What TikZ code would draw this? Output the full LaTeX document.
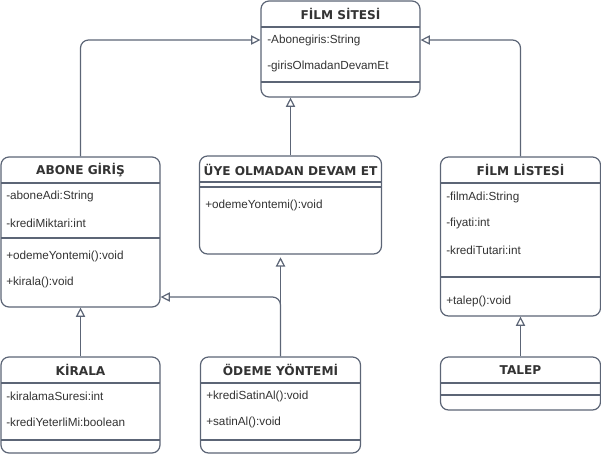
\documentclass[tikz,border=0pt]{standalone}
\usepackage{fontspec}
\setmainfont{Liberation Sans}
\newfontfamily\headfont{DejaVu Sans}
\usetikzlibrary{arrows.meta}
\definecolor{umlline}{RGB}{92,101,118}
\definecolor{umltext}{RGB}{51,51,51}
\begin{document}
\begin{tikzpicture}[x=0.75pt,y=-0.75pt]
    \tikzstyle{cls}=[draw=umlline,line width=0.9pt,rounded corners=6pt,fill=white,inner sep=0pt]
    \tikzstyle{head}=[font=\headfont\bfseries\fontsize{9.1}{11}\selectfont,text=umltext,inner sep=0pt]
    \tikzstyle{row}=[font=\fontsize{8.8}{10}\selectfont,text=umltext,anchor=west,inner sep=0pt]
    \tikzstyle{sep}=[draw=umlline,line width=0.9pt]
    \tikzstyle{gen}=[draw=umlline,line width=0.9pt,rounded corners=6pt,-{Triangle[open,length=7pt,width=7pt,fill=white]}]
    \useasboundingbox (0,0) rectangle (601,455);
    % classes
    \node[cls,minimum width=119.25pt,minimum height=72pt] (site) at (340.5,49) {};
    \node[cls,minimum width=119.25pt,minimum height=112.5pt] (abone) at (80.5,232) {};
    \node[cls,minimum width=136.5pt,minimum height=73.5pt] (uye) at (290.5,205) {};
    \node[cls,minimum width=120pt,minimum height=119.25pt] (liste) at (520.5,236.5) {};
    \node[cls,minimum width=119.25pt,minimum height=72pt] (kirala) at (80.5,405) {};
    \node[cls,minimum width=120pt,minimum height=72pt] (odeme) at (280.5,405) {};
    \node[cls,minimum width=120pt,minimum height=39.75pt] (talep) at (520.5,383.5) {};
    % FILM SITESI
    \node[head] (site_h) at (340.5,14) {FİLM SİTESİ};
    \draw[sep] (261,27) -- (420,27);
    \node[row] (site_a1) at (267,40) {-Abonegiris:String};
    \node[row] (site_a2) at (267,66) {-girisOlmadanDevamEt};
    \draw[sep] (261,82) -- (420,82);
    % ABONE GIRIS
    \node[head] (abone_h) at (80.5,170) {ABONE GİRİŞ};
    \draw[sep] (1,183) -- (160,183);
    \node[row] (abone_a1) at (6,196) {-aboneAdi:String};
    \node[row] (abone_a2) at (6,223) {-krediMiktari:int};
    \draw[sep] (1,238) -- (160,238);
    \node[row] (abone_m1) at (6,256) {+odemeYontemi():void};
    \node[row] (abone_m2) at (6,282) {+kirala():void};
    % UYE OLMADAN DEVAM ET
    \node[head] (uye_h) at (290.5,170) {ÜYE OLMADAN DEVAM ET};
    \draw[sep] (199,182) -- (382,182);
    \draw[sep] (199,187) -- (382,187);
    \node[row] (uye_m1) at (205,205) {+odemeYontemi():void};
    % FILM LISTESI
    \node[head] (liste_h) at (520.5,170) {FİLM LİSTESİ};
    \draw[sep] (440,183) -- (600,183);
    \node[row] (liste_a1) at (446,197) {-filmAdi:String};
    \node[row] (liste_a2) at (446,223) {-fiyati:int};
    \node[row] (liste_a3) at (446,250) {-krediTutari:int};
    \draw[sep] (440,277) -- (600,277);
    \node[row] (liste_m1) at (446,301) {+talep():void};
    % KIRALA
    \node[head] (kirala_h) at (80.5,370) {KİRALA};
    \draw[sep] (1,383) -- (160,383);
    \node[row] (kirala_a1) at (6,396) {-kiralamaSuresi:int};
    \node[row] (kirala_a2) at (6,422) {-krediYeterliMi:boolean};
    \draw[sep] (1,440) -- (160,440);
    % ODEME YONTEMI
    \node[head] (odeme_h) at (280.5,370) {ÖDEME YÖNTEMİ};
    \draw[sep] (200,383) -- (361,383);
    \node[row] (odeme_m1) at (206,396) {+krediSatinAl():void};
    \node[row] (odeme_m2) at (206,422) {+satinAl():void};
    \draw[sep] (200,440) -- (361,440);
    % TALEP
    \node[head] (talep_h) at (520.5,370) {TALEP};
    \draw[sep] (440,383) -- (600,383);
    \draw[sep] (440,395) -- (600,395);
    % generalizations
    \draw[gen] (abone.north) |- ([yshift=6.75pt]site.west);
    \draw[gen] (uye.north) -- (uye.north |- site.south);
    \draw[gen] (liste.north) |- ([yshift=6.75pt]site.east);
    \draw[gen] (kirala.north) -- (abone.south);
    \draw[gen,shorten >=2pt] (odeme.north) -- (odeme.north |- uye.south);
    \draw[gen] (odeme.north) |- ([yshift=-48.75pt]abone.east);
    \draw[gen] (talep.north) -- (liste.south);
  \end{tikzpicture}
\end{document}
